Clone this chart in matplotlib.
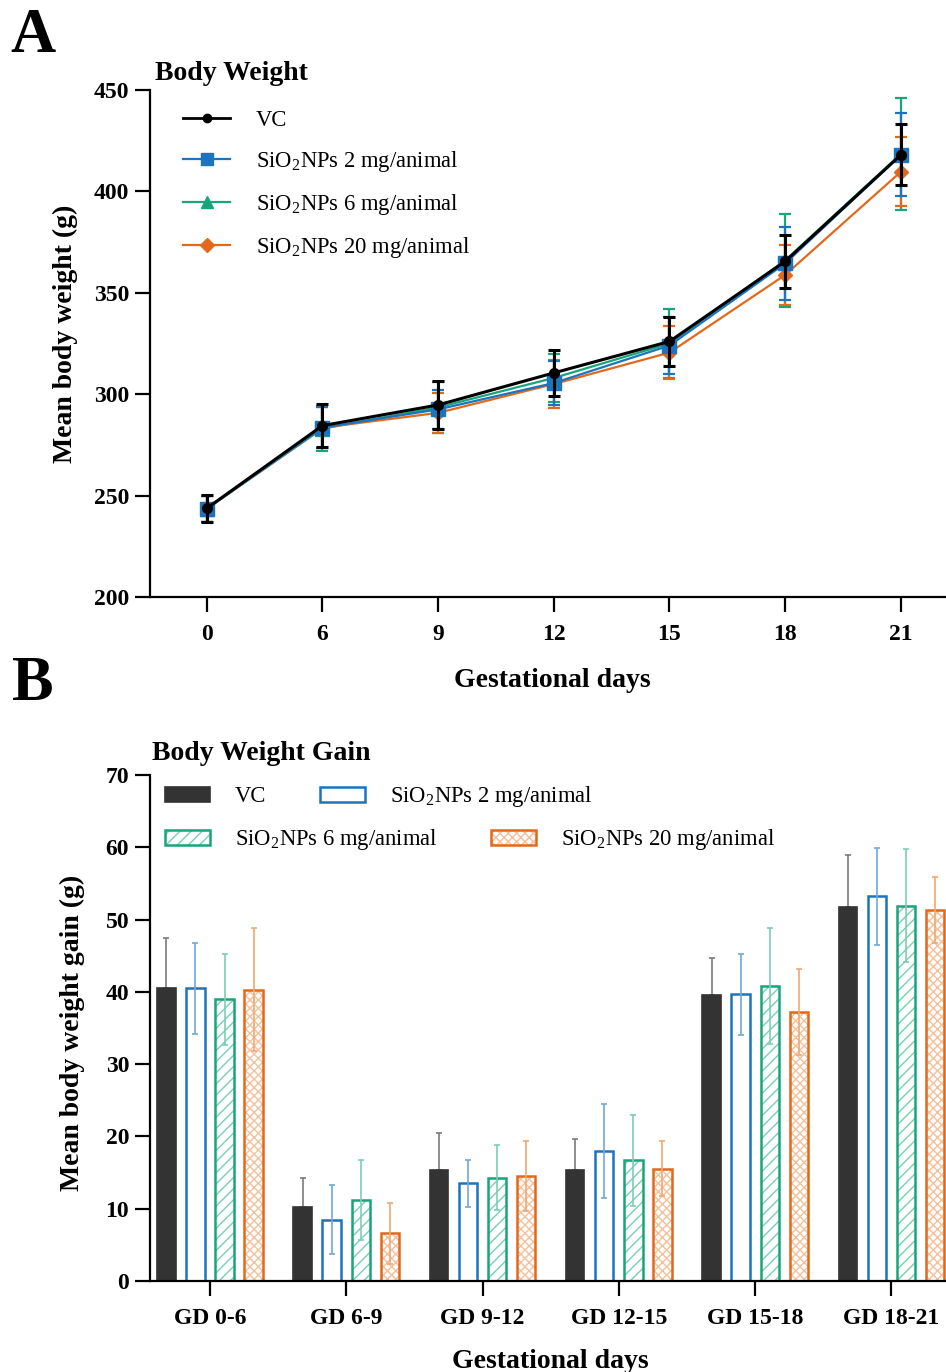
import numpy as np
import matplotlib
matplotlib.use("Agg")
import matplotlib.pyplot as plt
from matplotlib.legend_handler import HandlerTuple

plt.rcParams['font.family'] = ['Liberation Serif', 'DejaVu Serif']
plt.rcParams['mathtext.fontset'] = 'custom'
plt.rcParams['mathtext.rm'] = 'Liberation Serif'
plt.rcParams['hatch.linewidth'] = 1.0

# -------------------------------
# Data
# -------------------------------
groups = ["VC", "SiO$_2$NPs 2 mg/animal", "SiO$_2$NPs 6 mg/animal", "SiO$_2$NPs 20 mg/animal"]

days = ["0", "6", "9", "12", "15", "18", "21"]
bw_vc = [243.7, 284.5, 294.7, 310.5, 326.0, 365.5, 418.0]
bw_2mg = [243.5, 283.5, 292.5, 305.5, 324.0, 364.5, 418.0]
bw_6mg = [243.5, 283.0, 293.5, 308.0, 325.0, 366.0, 418.5]
bw_20mg = [243.5, 283.5, 290.8, 305.0, 320.5, 358.8, 409.7]
sd_vc = [6.7, 10.5, 12.0, 11.5, 12.0, 13.0, 15.0]
sd_2mg = [6.5, 10.0, 9.5, 11.0, 14.0, 18.0, 20.5]
sd_6mg = [6.5, 11.0, 12.5, 12.0, 17.0, 23.0, 27.5]
sd_20mg = [6.5, 10.0, 10.0, 12.0, 13.0, 15.0, 17.0]

periods = ["GD 0-6", "GD 6-9", "GD 9-12", "GD 12-15", "GD 15-18", "GD 18-21"]
gain_vc = [40.5, 10.3, 15.3, 15.4, 39.5, 51.8]
gain_2mg = [40.5, 8.5, 13.5, 18.0, 39.7, 53.2]
gain_6mg = [39.0, 11.2, 14.3, 16.7, 40.8, 51.9]
gain_20mg = [40.3, 6.6, 14.5, 15.5, 37.2, 51.3]
gsd_vc = [7.0, 3.9, 5.2, 4.2, 5.2, 7.1]
gsd_2mg = [6.3, 4.8, 3.2, 6.5, 5.6, 6.7]
gsd_6mg = [6.3, 5.5, 4.5, 6.3, 8.0, 7.8]
gsd_20mg = [8.5, 4.2, 4.8, 3.8, 6.0, 4.6]

# -------------------------------
# Style
# -------------------------------
C_VC = "#000000"
C_BAR_VC = "#333333"
C_BLUE = "#1b74bd"
C_TEAL = "#17a57a"
C_ORANGE = "#e2691b"
LIGHT = {"vc": "#7a7a7a", "blue": "#6fa9d8", "teal": "#79cfb0", "orange": "#f0a874"}

W, H = 946, 1372
fig = plt.figure(figsize=(W / 100, H / 100), dpi=100)


def fx(px):
    return px / W


def fy(py):
    return 1 - py / H


def style_axes(ax):
    for s in ["top", "right"]:
        ax.spines[s].set_visible(False)
    for s in ["left", "bottom"]:
        ax.spines[s].set_linewidth(1.6)
    ax.tick_params(direction="out", length=11, width=1.6, labelsize=17)
    ax.tick_params(axis="x", pad=8.5)
    ax.tick_params(axis="y", pad=4)
    for lab in ax.get_xticklabels() + ax.get_yticklabels():
        lab.set_fontweight("bold")


# -------------------------------
# Panel A: body weight
# -------------------------------
axA = fig.add_axes([fx(150), fy(597), fx(946 - 150), (597 - 90) / H])
x = np.arange(len(days))

series = [
    (bw_6mg, sd_6mg, C_TEAL, "^", 9.5, 1.6),
    (bw_20mg, sd_20mg, C_ORANGE, "D", 7.5, 1.6),
    (bw_2mg, sd_2mg, C_BLUE, "s", 10, 1.6),
    (bw_vc, sd_vc, C_VC, "o", 7, 2.2),
]
for vals, sd, col, mk, ms, lw in series:
    axA.errorbar(x, vals, yerr=sd, fmt="none", ecolor=col, elinewidth=lw,
                 capsize=4, capthick=lw)
    axA.plot(x, vals, color=col, marker=mk, markersize=ms, linewidth=lw)

handlesA = [
    plt.Line2D([], [], color=C_VC, marker="o", markersize=6, linewidth=2.0),
    plt.Line2D([], [], color=C_BLUE, marker="s", markersize=9, linewidth=1.6),
    plt.Line2D([], [], color=C_TEAL, marker="^", markersize=9, linewidth=1.6),
    plt.Line2D([], [], color=C_ORANGE, marker="D", markersize=7, linewidth=1.6),
]
axA.legend(handlesA, groups, loc="upper left", frameon=False, borderpad=0,
           borderaxespad=0, bbox_to_anchor=(fx(183), fy(110)),
           bbox_transform=fig.transFigure, prop={"size": 16.3},
           handlelength=2.08, handletextpad=1.15, labelspacing=0.8)

axA.set_xlim(-0.49, 6.39)
axA.set_ylim(200, 450)
axA.set_xticks(x)
axA.set_xticklabels(days)
axA.set_yticks(np.arange(200, 451, 50))
style_axes(axA)
axA.set_ylabel("Mean body weight (g)", fontsize=20, fontweight="bold")
axA.yaxis.set_label_coords(-0.090, 0.52)
axA.set_xlabel("Gestational days", fontsize=20, fontweight="bold")
axA.xaxis.set_label_coords(0.506, -0.14)

fig.text(fx(10), fy(52), "A", fontsize=45, fontweight="bold", va="baseline")
fig.text(fx(155), fy(80), "Body Weight", fontsize=20, fontweight="bold", va="baseline")

# -------------------------------
# Panel B: body weight gain
# -------------------------------
axB = fig.add_axes([fx(150), fy(1281), fx(946 - 150), (1281 - 775) / H])
xb = np.arange(len(periods))
bw = 0.135
offs = [-0.32, -0.107, 0.107, 0.32]

b_vc = axB.bar(xb + offs[0], gain_vc, bw, color=C_BAR_VC, edgecolor=C_BAR_VC,
               linewidth=1.2, zorder=2)
b_2 = axB.bar(xb + offs[1], gain_2mg, bw, facecolor="none", edgecolor=C_BLUE,
              linewidth=1.8, zorder=2)
b_6h = axB.bar(xb + offs[2], gain_6mg, bw, facecolor="white", edgecolor=LIGHT["teal"],
               hatch="///", linewidth=0, zorder=2)
b_6 = axB.bar(xb + offs[2], gain_6mg, bw, facecolor="none", edgecolor=C_TEAL,
              linewidth=1.8, zorder=2)
b_20h = axB.bar(xb + offs[3], gain_20mg, bw, facecolor="white", edgecolor="#f4c19c",
                hatch="xxxx", linewidth=0, zorder=2)
b_20 = axB.bar(xb + offs[3], gain_20mg, bw, facecolor="none", edgecolor=C_ORANGE,
               linewidth=1.8, zorder=2)

axB.errorbar(xb + offs[0], gain_vc, yerr=[np.zeros(len(gsd_vc)), gsd_vc], fmt="none",
             ecolor=LIGHT["vc"], elinewidth=1.2, capsize=2.5, capthick=1.2, zorder=1)
for off, vals, sd, col in [(offs[1], gain_2mg, gsd_2mg, LIGHT["blue"]),
                           (offs[2], gain_6mg, gsd_6mg, LIGHT["teal"]),
                           (offs[3], gain_20mg, gsd_20mg, LIGHT["orange"])]:
    axB.errorbar(xb + off, vals, yerr=sd, fmt="none", ecolor=col, elinewidth=1.2,
                 capsize=2.5, capthick=1.2, zorder=3)

leg_kw = dict(loc="center left", frameon=False, borderpad=0, borderaxespad=0, ncol=2,
              bbox_transform=fig.transFigure, prop={"size": 16.3},
              handlelength=2.0, handleheight=0.62, handletextpad=1.1,
              columnspacing=2.35, handler_map={tuple: HandlerTuple(ndivide=1)})
leg1 = axB.legend([b_vc, b_2], groups[:2], bbox_to_anchor=(fx(165), fy(797)), **leg_kw)
axB.add_artist(leg1)
axB.legend([(b_6h, b_6), (b_20h, b_20)], groups[2:], bbox_to_anchor=(fx(165), fy(840)),
           **leg_kw)

axB.set_xlim(-0.44, 5.40)
axB.set_ylim(0, 70)
axB.set_xticks(xb)
axB.set_xticklabels(periods)
axB.set_yticks(np.arange(0, 71, 10))
style_axes(axB)
axB.set_ylabel("Mean body weight gain (g)", fontsize=20, fontweight="bold")
axB.yaxis.set_label_coords(-0.082, 0.49)
axB.set_xlabel("Gestational days", fontsize=20, fontweight="bold")
axB.xaxis.set_label_coords(0.503, -0.134)

fig.text(fx(12), fy(700), "B", fontsize=45, fontweight="bold", va="baseline")
fig.text(fx(152), fy(760), "Body Weight Gain", fontsize=20, fontweight="bold", va="baseline")

fig.savefig("out.png", dpi=100)
